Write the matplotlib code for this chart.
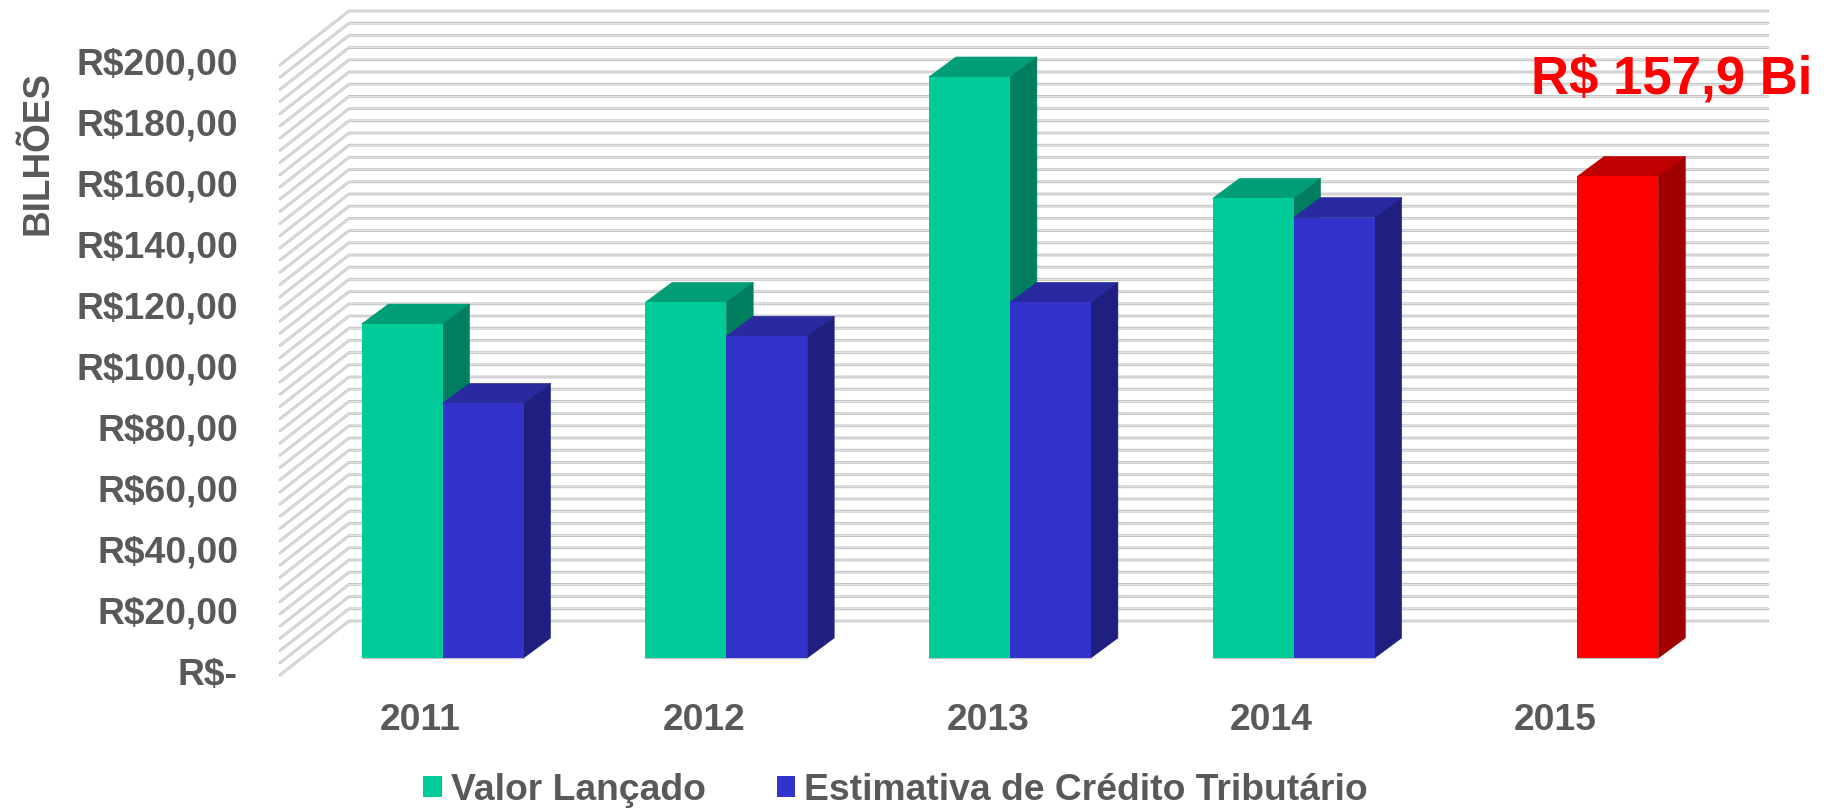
import numpy as np
import matplotlib
matplotlib.use("Agg")
import matplotlib.pyplot as plt
from matplotlib.patches import Patch, Polygon

plt.rcParams["font.family"] = ["Liberation Sans", "DejaVu Sans"]

years = ["2011", "2012", "2013", "2014", "2015"]
valor_lancado = [109.5, 116.6, 190.5, 150.7, None]
estimativa = [83.5, 105.5, 116.6, 144.4, 157.9]
tick_values = [0, 20, 40, 60, 80, 100, 120, 140, 160, 180, 200]
tick_labels = ["R$-", "R$20,00", "R$40,00", "R$60,00", "R$80,00", "R$100,00",
               "R$120,00", "R$140,00", "R$160,00", "R$180,00", "R$200,00"]
minor_step = 4

GRAY = "#595959"
GREEN = ("#00CC99", "#009E77", "#007F60")
BLUE = ("#3333CC", "#2A2AA0", "#1F1F7F")
RED = ("#FF0000", "#C00000", "#A00000")

W, H = 1830, 809
PX_X = 283.7   # pixels per category
PX_Y = 3.05    # pixels per R$ bilhao
X0, Y0 = 442.5, 658

fig = plt.figure(figsize=(W / 100, H / 100), dpi=100)
ax = fig.add_axes([0, 0, 1, 1])
ax.set_xlim(-X0 / PX_X, (W - X0) / PX_X)
ax.set_ylim(-(H - Y0) / PX_Y, Y0 / PX_Y)
ax.axis("off")

bar_w = 81 / PX_X
depth_x = 27 / PX_X
depth_y = 20 / PX_Y

# 3d walls: front edge, back edge and right end of the gridlines
wall_front_x, wall_front_y = -162.5 / PX_X, -17 / PX_Y
wall_back_x, wall_back_y = -93.5 / PX_X, 37 / PX_Y
wall_right_x = 1325.5 / PX_X


def draw_grid(v):
    xs = [wall_front_x, wall_back_x, wall_right_x]
    ys = [v + wall_front_y, v + wall_back_y, v + wall_back_y]
    ax.plot(xs, ys, color="#c4c4c4", lw=2.0, zorder=1, solid_joinstyle="round",
            solid_capstyle="round")
    ax.plot(xs, ys, color="#f4f4f4", lw=0.5, zorder=1.1, solid_joinstyle="round",
            solid_capstyle="round")


for v in np.arange(0, tick_values[-1] + 1, minor_step):
    draw_grid(v)


def draw_bar(left, value, colors, z):
    front, top, side = colors
    ax.bar(left, value, bar_w, align="edge", color=front, linewidth=0, zorder=z + 0.2)
    right = left + bar_w
    ax.plot([left, right], [0, 0], color="#c4c4c4", lw=1, zorder=z + 0.1)
    ax.add_patch(Polygon([(left, value), (right, value),
                          (right + depth_x, value + depth_y),
                          (left + depth_x, value + depth_y)],
                         facecolor=top, edgecolor=top, lw=0.4, zorder=z))
    ax.add_patch(Polygon([(right, 0), (right + depth_x, depth_y),
                          (right + depth_x, value + depth_y), (right, value)],
                         facecolor=side, edgecolor=side, lw=0.4, zorder=z))


for i in range(len(years)):
    if valor_lancado[i] is not None:
        draw_bar(i - bar_w, valor_lancado[i], GREEN, 2 + i)
    draw_bar(i, estimativa[i], RED if years[i] == "2015" else BLUE, 2.5 + i)

# tick labels sit on baselines 26.5 px under the bar floor
for v, lab in zip(tick_values, tick_labels):
    ax.text(-204.5 / PX_X, v - 26.5 / PX_Y, lab, ha="right", va="baseline",
            fontsize=26.8, fontweight="bold", color=GRAY)

for i, y in enumerate(years):
    ax.text(i - 22 / PX_X, -58 / PX_Y, y, ha="center", va="center_baseline",
            fontsize=26.8, fontweight="bold", color=GRAY)

ax.text(-404.5 / PX_X, 505 / PX_Y, "BILHÕES", rotation=90, ha="center", va="center",
        fontsize=26.6, fontweight="bold", color=GRAY)

ax.text(1812, H - 93, "R$ 157,9 Bi", transform=None, ha="right", va="baseline",
        fontsize=38, fontweight="bold", color="#FF0000", zorder=20)

handles = [Patch(facecolor=GREEN[0], label="Valor Lançado"),
           Patch(facecolor=BLUE[0], label="Estimativa de Crédito Tributário")]
ax.legend(handles=handles, ncol=2, frameon=False, loc="center left",
          bbox_to_anchor=(423 / W, 1 - 790 / H), prop={"size": 26.8, "weight": "bold"},
          labelcolor=GRAY, handlelength=0.51, handleheight=0.51, handletextpad=0.24,
          columnspacing=1.9, borderpad=0, borderaxespad=0)

fig.savefig("out.png", dpi=100)
